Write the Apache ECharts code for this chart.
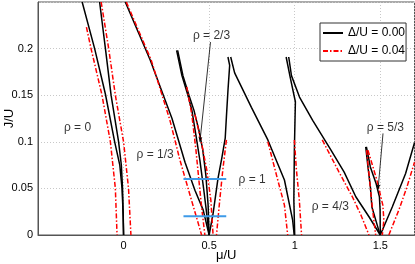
<!DOCTYPE html>
<html><head><meta charset="utf-8">
<script src="https://cdn.jsdelivr.net/npm/echarts@6/dist/echarts.min.js"></script>
<style>html,body{margin:0;padding:0;background:#fff}#c{width:415px;height:264px}</style>
</head><body><div id="c"></div>
<script>
const xTicks = [0, 0.5, 1, 1.5];
const yTicks = [0, 0.05, 0.1, 0.15, 0.2];
const nameD0 = 'Δ/U = 0.00';
const nameD4 = 'Δ/U = 0.04';

// Δ/U = 0.00 phase boundaries, points [μ/U, J/U]
const blk0L = [[-0.242,0.25],[-0.169,0.200],[-0.106,0.151],[-0.052,0.100],[-0.022,0.075],[-0.009,0.050],[-0.002,0.021],[0,0]];
const blk0R = [[-0.140,0.25],[-0.106,0.200],[-0.073,0.150],[-0.029,0.100],[-0.013,0.075],[-0.006,0.050],[0,0]];
const blkA = [[0.010,0.25],[0.155,0.188],[0.283,0.125],[0.359,0.078],[0.417,0.048],[0.465,0.027],[0.5,0]];
const blkB = [[0.310,0.198],[0.341,0.171],[0.376,0.150],[0.399,0.134],[0.423,0.107],[0.446,0.080],[0.469,0.048],[0.487,0.021],[0.5,0]];
const blkC = [[0.316,0.198],[0.347,0.171],[0.382,0.150],[0.411,0.134],[0.440,0.1125],[0.463,0.091],[0.481,0.064],[0.494,0.032],[0.5,0]];
const blkD = [[0.610,0.191],[0.620,0.182],[0.610,0.155],[0.601,0.127],[0.594,0.104],[0.574,0.0825],[0.552,0.061],[0.523,0.023],[0.5,0]];
const blkE = [[0.626,0.191],[0.649,0.174],[0.747,0.137],[0.843,0.102],[0.940,0.059],[0.988,0.016],[0.997,0]];
const blkF = [[0.950,0.191],[0.975,0.168],[1.004,0.143],[0.998,0.091],[0.995,0.0375],[1.0,0]];
const blkG = [[0.965,0.191],[0.981,0.171],[1.028,0.148],[1.105,0.123],[1.212,0.091],[1.289,0.0675],[1.357,0.041],[1.434,0.0196],[1.5,0]];
const blkH = [[1.5,0],[1.57,0.030],[1.648,0.066],[1.7,0.099]];
const blkI = [[1.415,0.0945],[1.428,0.073],[1.442,0.052],[1.451,0.030],[1.496,0.002],[1.5,0]];
const blkJ = [[1.419,0.0945],[1.442,0.073],[1.476,0.055],[1.495,0.041],[1.499,0.027],[1.5,0]];

// Δ/U = 0.04 phase boundaries
const red0L = [[-0.217,0.223],[-0.190,0.200],[-0.126,0.150],[-0.077,0.100],[-0.048,0.050],[-0.038,0]];
const red0R = [[-0.131,0.25],[-0.087,0.200],[-0.048,0.150],[0,0.100],[0.029,0.050],[0.043,0]];
const redA = [[0.016,0.25],[0.161,0.188],[0.271,0.123],[0.330,0.080],[0.388,0.043],[0.423,0.021],[0.456,0]];
const redB = [[0.369,0.159],[0.399,0.129],[0.423,0.091],[0.446,0.048],[0.458,0.027],[0.475,0]];
const redC = [[0.417,0.129],[0.452,0.102],[0.486,0.070],[0.510,0.0375],[0.523,0]];
const redD = [[0.601,0.102],[0.580,0.070],[0.562,0.0375],[0.543,0]];
const redE = [[0.843,0.100],[0.901,0.059],[0.940,0.032],[0.959,0]];
const redF = [[0.998,0.102],[1.010,0.070],[1.027,0.0375],[1.040,0]];
const redG = [[1.161,0.102],[1.259,0.0675],[1.337,0.041],[1.388,0.021],[1.434,0]];
const redH = [[1.55,0],[1.609,0.027],[1.655,0.051],[1.7,0.078]];
const redI = [[1.420,0.091],[1.435,0.064],[1.452,0.032],[1.473,0]];
const redJ = [[1.428,0.091],[1.480,0.059],[1.515,0.032],[1.521,0.016],[1.512,0]];

// horizontal cuts
const cutLow = [[0.35,0.02],[0.60,0.02]];
const cutHigh = [[0.35,0.06],[0.60,0.06]];

// phase labels
const phaseText = ['ρ = 0','ρ = 1/3','ρ = 2/3','ρ = 1','ρ = 4/3','ρ = 5/3'];
const phaseMu = [-0.269, 0.184, 0.514, 0.751, 1.208, 1.530];
const phaseJ = [0.115, 0.086, 0.214, 0.059, 0.030, 0.115];
// pointer lines
const arrow23 = [[0.508,0.207],[0.446,0.100]];
const arrow53 = [[1.516,0.109],[1.487,0.049]];

const FONT = 'Liberation Sans, Arial, Helvetica, sans-serif';
const blacks = [blk0L,blk0R,blkA,blkB,blkC,blkD,blkE,blkF,blkG,blkH,blkI,blkJ];
const reds = [red0L,red0R,redA,redB,redC,redD,redE,redF,redG,redH,redI,redJ];

const series = [];
blacks.forEach(d => series.push({type:'line', name:nameD0, data:d, symbol:'none', silent:true,
  lineStyle:{color:'#000', width:1.5}, itemStyle:{color:'#000'}, z:3}));
reds.forEach(d => series.push({type:'line', name:nameD4, data:d, symbol:'none', silent:true,
  lineStyle:{color:'#ff0000', width:1.5, type:[5,2,1.5,2]}, itemStyle:{color:'#ff0000'}, z:4}));
[cutLow, cutHigh].forEach(d => series.push({type:'line', data:d, symbol:'none', silent:true,
  lineStyle:{color:'#3d9ae8', width:2}, z:5}));
[arrow23, arrow53].forEach(d => series.push({type:'line', data:[], silent:true,
  markLine:{silent:true, symbol:['none','arrow'], symbolSize:[3,5], label:{show:false},
    lineStyle:{color:'#000', width:0.8, type:'solid'},
    data:[[{coord:d[0]},{coord:d[1]}]]}, z:6}));
series.push({type:'scatter', silent:true, symbolSize:0,
  data: phaseText.map((t,i)=>({value:[phaseMu[i], phaseJ[i]], name:t})),
  label:{show:true, position:'inside', formatter:p=>p.name, color:'#000', fontSize:12, fontFamily:FONT}, z:7});

const chart = echarts.init(document.getElementById('c'), null, {renderer:'canvas'});
chart.setOption({
  animation:false,
  backgroundColor:'#fff',
  grid:{left:38, right:0.5, top:2, bottom:29, containLabel:false, outerBoundsMode:'none',
    show:true, borderColor:'#555', borderWidth:1, backgroundColor:'transparent'},
  legend:{data:[{name:nameD0, itemStyle:{opacity:0}}, {name:nameD4, itemStyle:{opacity:0}}],
    orient:'vertical', left:320, top:23, itemWidth:20, itemHeight:12, itemGap:6,
    padding:[4,1,4,2], borderColor:'#333', borderWidth:1, backgroundColor:'#fff',
    textStyle:{fontSize:12, fontFamily:FONT, color:'#000'}, selectedMode:false},
  xAxis:{type:'value', min:-0.5, max:1.7, interval:0.5, name:'μ/U', nameLocation:'middle', nameGap:14,
    nameMoveOverlap:false,
    nameTextStyle:{fontSize:13, fontFamily:FONT, color:'#000'},
    axisLine:{show:true, onZero:false, lineStyle:{color:'#555'}}, axisTick:{show:false},
    axisLabel:{fontSize:11, fontFamily:FONT, color:'#000', margin:5, showMaxLabel:false, showMinLabel:true,
      formatter:v=>xTicks.some(t=>Math.abs(t-v)<1e-9)?String(v):''},
    splitLine:{show:true, lineStyle:{color:'#c8c8c8', type:[1,2], width:1}}},
  yAxis:{type:'value', min:0, max:0.25, interval:0.05, name:'J/U', nameLocation:'middle', nameGap:22,
    nameMoveOverlap:false,
    nameTextStyle:{fontSize:13, fontFamily:FONT, color:'#000'},
    axisLine:{show:true, onZero:false, lineStyle:{color:'#555'}}, axisTick:{show:false},
    axisLabel:{fontSize:11, fontFamily:FONT, color:'#000', margin:5,
      formatter:v=>yTicks.some(t=>Math.abs(t-v)<1e-9)?String(+v.toFixed(2)):''},
    splitLine:{show:true, lineStyle:{color:'#c8c8c8', type:[1,2], width:1}}},
  series: series
});
</script></body></html>
